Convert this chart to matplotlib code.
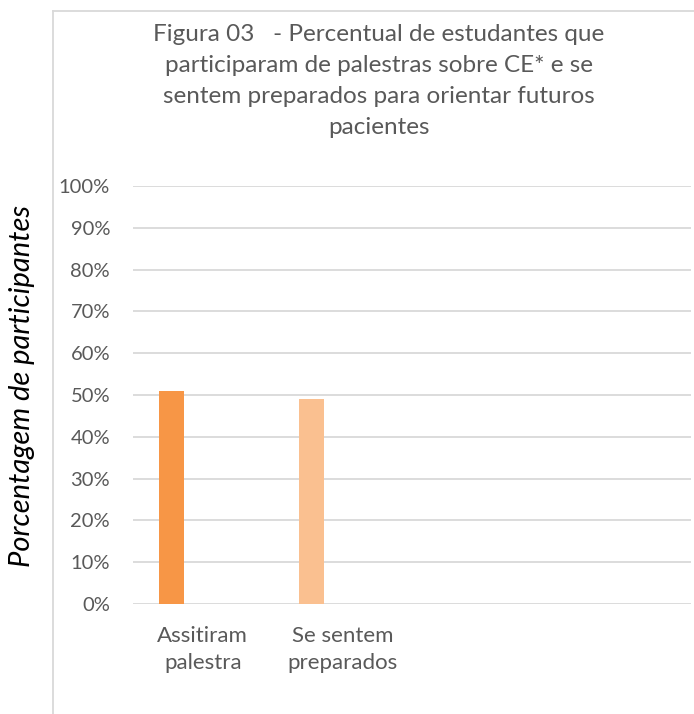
import numpy as np
import matplotlib
matplotlib.use("Agg")
import matplotlib.pyplot as plt
from matplotlib.lines import Line2D

# data
categories = ["Assitiram\npalestra", "Se sentem\npreparados", "", ""]
values = [0.51, 0.49, np.nan, np.nan]
bar_colors = ["#F79646", "#FAC090", "#F79646", "#FAC090"]
yticks = np.arange(0, 1.01, 0.1)
title = ("Figura 03   - Percentual de estudantes que\n"
         "participaram de palestras sobre CE* e se\n"
         "sentem preparados para orientar futuros\n"
         "pacientes")
ylabel = "Porcentagem de participantes"

plt.rcParams["font.family"] = ["Lato", "DejaVu Sans"]
TXT = "#595959"
W, H = 694, 714

fig = plt.figure(figsize=(W / 100, H / 100), dpi=100)
ax = fig.add_axes([133 / W, 1 - 604 / H, (691 - 133) / W, (604 - 186) / H])

x = np.arange(len(categories))
ax.bar(x - 0.222, values, width=0.18, color=bar_colors, zorder=3)

ax.set_xlim(-0.5, len(categories) - 0.5)
ax.set_ylim(0, 1)
ax.set_yticks(yticks)
ax.set_yticklabels([f"{int(round(v * 100))}%" for v in yticks])
ax.set_xticks(x)
ax.set_xticklabels(categories, linespacing=1.45)
ax.tick_params(axis="y", length=0, pad=16.5, labelsize=14.5, labelcolor=TXT)
ax.tick_params(axis="x", length=0, pad=16, labelsize=16, labelcolor=TXT)
ax.grid(axis="y", color="#D9D9D9", lw=1.3, zorder=0)
for s in ax.spines.values():
    s.set_visible(False)

fig.text(379 / W, 1 - 24 / H, title, ha="center", va="top", fontsize=17.5,
         color=TXT, linespacing=1.58)
fig.text(22 / W, 1 - 386 / H, ylabel, rotation=90, ha="center", va="center",
         fontsize=21, style="italic", color="black")

# chart border (cut off at right and bottom)
fig.add_artist(Line2D([53 / W, 53 / W], [0, 1 - 11 / H], color="#D9D9D9", lw=1.3))
fig.add_artist(Line2D([53 / W, 1], [1 - 11 / H, 1 - 11 / H], color="#D9D9D9", lw=1.3))

fig.savefig("out.png", dpi=100)
